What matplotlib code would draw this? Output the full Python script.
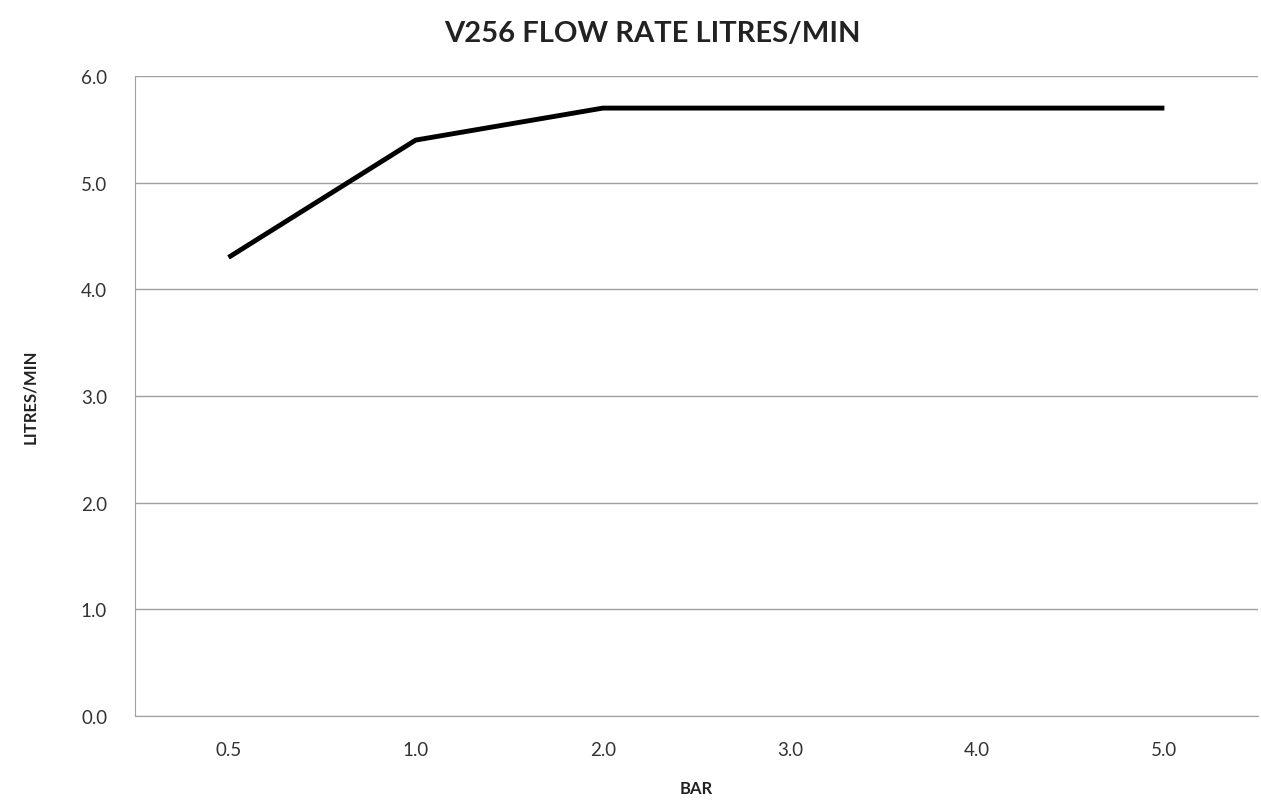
import matplotlib
matplotlib.use('Agg')
import matplotlib.pyplot as plt

# Flow rate data
bar_labels = ['0.5', '1.0', '2.0', '3.0', '4.0', '5.0']
litres_per_min = [4.3, 5.4, 5.7, 5.7, 5.7, 5.7]
y_ticks = [0.0, 1.0, 2.0, 3.0, 4.0, 5.0, 6.0]

plt.rcParams['font.family'] = ['Lato', 'DejaVu Sans']

fig = plt.figure(figsize=(12.61, 8.03), dpi=100)
ax = fig.add_axes([0.107, 0.107, 0.8906, 0.797])

x = range(len(bar_labels))
ax.plot(x, litres_per_min, color='black', linewidth=3.5, solid_capstyle='butt')

ax.set_xlim(-0.5, len(bar_labels) - 0.5)
ax.set_ylim(0, 6)
ax.set_xticks(list(x))
ax.set_xticklabels(bar_labels)
ax.set_yticks(y_ticks)
ax.set_yticklabels([f'{v:.1f}' for v in y_ticks])

ax.grid(axis='y', color='#a0a0a0', linewidth=1)
ax.set_axisbelow(True)
ax.tick_params(length=0, labelsize=13.5, colors='#333333', pad=18)
ax.tick_params(axis='y', pad=20)

for side in ['top', 'right']:
    ax.spines[side].set_visible(False)
for side in ['left', 'bottom']:
    ax.spines[side].set_color('#a0a0a0')

fig.text(0.517, 0.958, 'V256 FLOW RATE LITRES/MIN', fontsize=21, fontweight='bold',
         color='#222222', ha='center', va='center')
ax.set_xlabel('BAR', fontsize=12, fontweight='bold', color='#222222', labelpad=16)
ax.set_ylabel('LITRES/MIN', fontsize=12, fontweight='bold', color='#222222', labelpad=31)

fig.savefig('out.png', dpi=100)
